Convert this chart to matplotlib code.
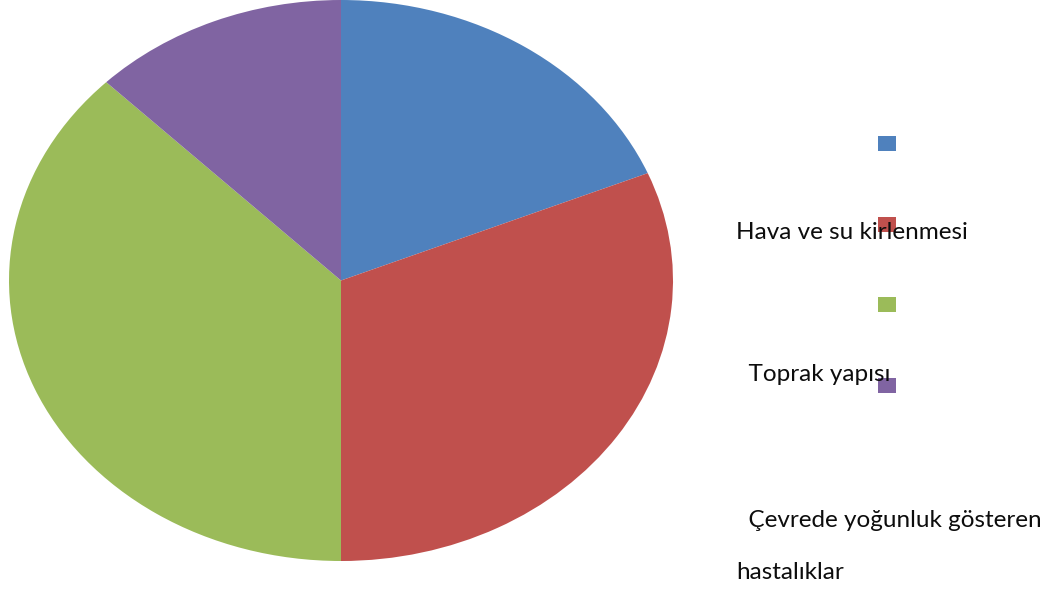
#!/usr/bin/env python3
"""Pie chart of factors (Office 2007 style colours) with a hand-placed legend."""

import matplotlib
matplotlib.use("Agg")
import matplotlib.pyplot as plt
from matplotlib.patches import Rectangle

W, H = 1047, 589

# data (shares: 3/16, 5/16, 6/16, 2/16)
categories = ["", "Hava ve su kirlenmesi", "Toprak yapısı", "Çevrede yoğunluk gösteren hastalıklar"]
values = [3, 5, 6, 2]
colors = ["#4F81BD", "#C0504D", "#9BBB59", "#8064A2"]

# legend label lines as they appear in the picture (text, x px, baseline px)
label_lines = [
    ("Hava ve su kirlenmesi", 736, 239),
    ("  Toprak yapısı", 736, 381),
    ("  Çevrede yoğunluk gösteren", 736, 527),
    ("hastalıklar", 736, 579),
]
swatch_tops = [136, 217, 297, 378]


def px(x, y):
    return x / W, 1 - y / H


fig = plt.figure(figsize=(W / 100, H / 100), dpi=100)
fig.patch.set_facecolor("white")

# pie is an ellipse: x 9..673, y 0..561
ax = fig.add_axes([9 / W, 1 - 561 / H, 664 / W, 561 / H])
ax.pie(values, colors=colors, startangle=90, counterclock=False, radius=1,
       wedgeprops=dict(linewidth=0))
ax.set_aspect("auto")
ax.set_xlim(-1, 1)
ax.set_ylim(-1, 1)
ax.axis("off")

for col, top in zip(colors, swatch_tops):
    x0, y0 = px(878, top + 15)
    fig.add_artist(Rectangle((x0, y0), 18 / W, 15 / H, facecolor=col,
                             edgecolor="none", transform=fig.transFigure))

for txt, x, base in label_lines:
    fx, fy = px(x, base)
    fig.text(fx, fy, txt, fontsize=17.5, family=["Lato", "DejaVu Sans"],
             color="#0d0d0d", ha="left", va="baseline")

fig.savefig("out.png", dpi=100, facecolor="white")
